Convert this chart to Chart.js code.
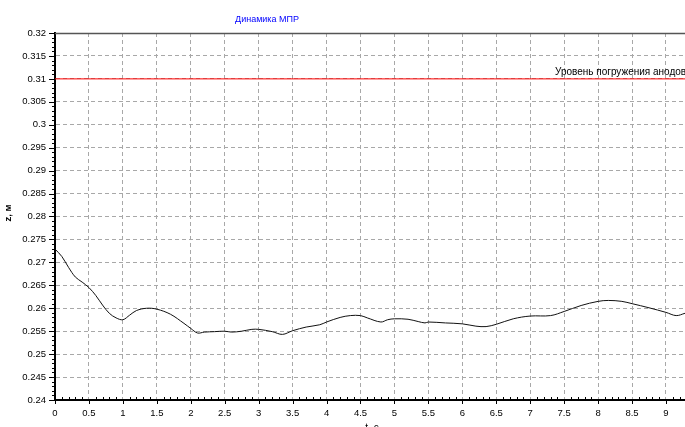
<!DOCTYPE html>
<html>
<head>
<meta charset="utf-8">
<script src="https://cdn.jsdelivr.net/npm/chart.js@4.4.0/dist/chart.umd.min.js"></script>
<style>
  html, body { margin: 0; padding: 0; background: #fff; }
  #wrap { width: 685px; height: 427px; position: relative; }
</style>
</head>
<body>
<div id="wrap"><canvas id="c"></canvas></div>
<script>
// Time, s
const timeValues = [0, 0.1, 0.2, 0.3, 0.4, 0.5, 0.6, 0.7, 0.8, 0.9, 1.0, 1.1, 1.2, 1.35, 1.5, 1.7, 1.9, 2.0, 2.1, 2.2,
  2.35, 2.5, 2.6, 2.75, 2.9, 3.0, 3.2, 3.35, 3.5, 3.7, 3.9, 4.0, 4.2, 4.35, 4.5, 4.6, 4.8, 4.9, 5.0, 5.2,
  5.35, 5.45, 5.5, 5.75, 6.0, 6.2, 6.35, 6.5, 6.75, 7.0, 7.3, 7.5, 7.75, 8.0, 8.15, 8.35, 8.5, 8.75, 9.0, 9.15, 9.28];
// Level z, m
const levelValues = [0.2729, 0.2713, 0.2689, 0.2668, 0.2657, 0.2645, 0.2628, 0.2607, 0.2589, 0.2579, 0.2575, 0.2585, 0.2595, 0.2600, 0.2598, 0.2587, 0.2567, 0.2556, 0.2546, 0.2548,
  0.2549, 0.2550, 0.2548, 0.2550, 0.2554, 0.2554, 0.2549, 0.2543, 0.2551, 0.2559, 0.2564, 0.2570, 0.2580, 0.2584, 0.2584, 0.2579, 0.2570, 0.2575, 0.2577, 0.2576,
  0.2571, 0.2568, 0.2570, 0.2568, 0.2566, 0.2561, 0.2560, 0.2565, 0.2577, 0.2583, 0.2584, 0.2593, 0.2606, 0.2615, 0.2617, 0.2615, 0.2610, 0.2601, 0.2591, 0.2584, 0.2589];
// Anode immersion level
const anodeLevel = 0.31;
const anodeLabel = 'Уровень погружения анодов';
const chartTitle = 'Динамика МПР';
const xTitle = 't, c';
const yTitle = 'z, м';
const xMin = 0, xMax = 9.28, xStep = 0.5;
const yMin = 0.24, yMax = 0.32, yStep = 0.005;

const FONT = '"Liberation Sans", Arial, sans-serif';

const decor = {
  id: 'decor',
  afterDraw(chart) {
    const ctx = chart.ctx;
    const a = chart.chartArea;
    const xs = chart.scales.x, ys = chart.scales.y;
    ctx.save();
    // top frame line
    ctx.strokeStyle = '#555';
    ctx.lineWidth = 1.5;
    ctx.beginPath();
    ctx.moveTo(a.left, a.top + 0.5);
    ctx.lineTo(a.right, a.top + 0.5);
    ctx.stroke();

    // axis ticks
    ctx.strokeStyle = '#000';
    ctx.lineWidth = 1;
    ctx.beginPath();
    for (let i = 0; xMin + i * 0.1 <= xMax + 1e-9; i++) {
      const v = +(xMin + i * 0.1).toFixed(2);
      const px = Math.round(xs.getPixelForValue(v)) + 0.5;
      if (Math.abs(v / xStep - Math.round(v / xStep)) < 1e-6) {
        ctx.moveTo(px, a.bottom);
        ctx.lineTo(px, a.bottom + 4);
      } else {
        ctx.moveTo(px, a.bottom - 3);
        ctx.lineTo(px, a.bottom);
      }
    }
    for (let i = 0; yMin + i * 0.001 <= yMax + 1e-9; i++) {
      const v = +(yMin + i * 0.001).toFixed(4);
      const py = Math.round(ys.getPixelForValue(v)) + 0.5;
      if (i % 5 === 0) {
        ctx.moveTo(a.left - 6, py);
        ctx.lineTo(a.left, py);
      } else {
        ctx.moveTo(a.left - 3, py);
        ctx.lineTo(a.left, py);
      }
    }
    ctx.stroke();

    // title
    ctx.fillStyle = '#0000ff';
    ctx.font = '9px ' + FONT;
    ctx.textAlign = 'center';
    ctx.textBaseline = 'middle';
    ctx.fillText(chartTitle, 267, 20);

    // line label
    ctx.fillStyle = '#000';
    ctx.font = '10px ' + FONT;
    ctx.textAlign = 'left';
    ctx.textBaseline = 'alphabetic';
    ctx.fillText(anodeLabel, 555, ys.getPixelForValue(anodeLevel) - 4);

    // x axis title
    ctx.textAlign = 'center';
    ctx.textBaseline = 'top';
    ctx.fillText(xTitle, 372, 423);

    // y axis title
    ctx.save();
    ctx.translate(8, 213);
    ctx.rotate(-Math.PI / 2);
    ctx.font = 'bold 9.5px ' + FONT;
    ctx.textAlign = 'center';
    ctx.textBaseline = 'middle';
    ctx.fillText(yTitle, 0, 0);
    ctx.restore();

    ctx.restore();
  }
};

new Chart(document.getElementById('c'), {
  type: 'line',
  data: {
    datasets: [
      {
        data: timeValues.map((t, i) => ({ x: t, y: levelValues[i] })),
        borderColor: '#111',
        borderWidth: 1,
        pointRadius: 0,
        tension: 0.35,
        fill: false
      },
      {
        data: [{ x: xMin, y: anodeLevel }, { x: xMax, y: anodeLevel }],
        borderColor: '#ff0000',
        borderWidth: 1,
        pointRadius: 0,
        fill: false
      }
    ]
  },
  options: {
    responsive: true,
    maintainAspectRatio: false,
    animation: false,
    events: [],
    layout: { padding: { top: 33, left: 0, right: 0, bottom: 0 } },
    plugins: { legend: { display: false }, title: { display: false }, tooltip: { enabled: false } },
    scales: {
      x: {
        type: 'linear',
        min: xMin,
        max: xMax,
        afterFit(scale) { scale.height = 27; },
        ticks: {
          stepSize: xStep,
          includeBounds: false,
          maxRotation: 0,
          autoSkip: false,
          padding: 8,
          color: '#000',
          font: { family: FONT, size: 9.5 },
          callback: v => String(+v.toFixed(2))
        },
        grid: { color: '#a8a8a8', lineWidth: 1, drawTicks: false },
        border: { display: true, color: '#000', width: 2, dash: [4, 3] }
      },
      y: {
        type: 'linear',
        min: yMin,
        max: yMax,
        afterFit(scale) { scale.width = 55; },
        ticks: {
          stepSize: yStep,
          includeBounds: false,
          autoSkip: false,
          padding: 9,
          color: '#000',
          font: { family: FONT, size: 9.5 },
          callback: v => String(+v.toFixed(3))
        },
        grid: { color: '#a8a8a8', lineWidth: 1, drawTicks: false },
        border: { display: true, color: '#000', width: 2, dash: [4, 3] }
      }
    }
  },
  plugins: [decor]
});
</script>
</body>
</html>
